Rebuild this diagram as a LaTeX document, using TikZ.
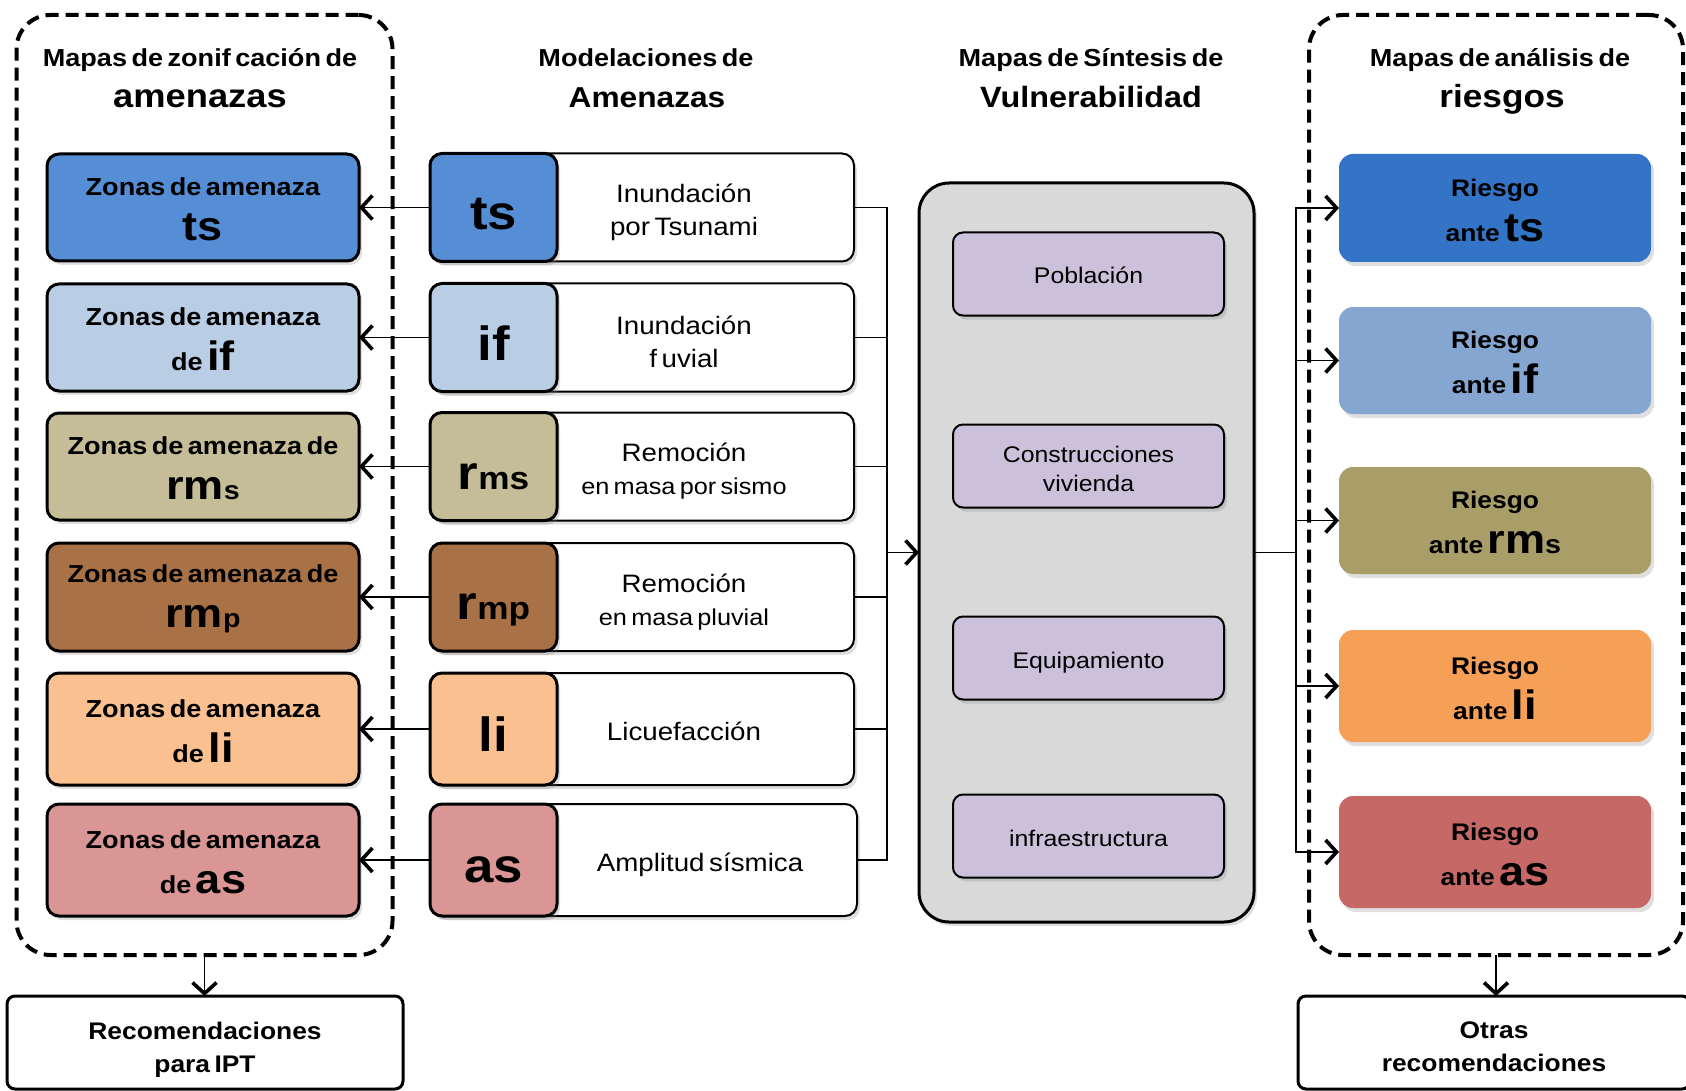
\documentclass[tikz,border=0pt]{standalone}
\usepackage{fontspec}
\setmainfont{Liberation Sans}[FakeStretch=1.1, WordSpace=0.6]
\usetikzlibrary{arrows.meta, shadows}
\definecolor{tsZone}{HTML}{558ED5}
\definecolor{ifZone}{HTML}{B9CDE5}
\definecolor{rmsZone}{HTML}{C4BD97}
\definecolor{rmpZone}{HTML}{A97246}
\definecolor{liZone}{HTML}{FAC090}
\definecolor{asZone}{HTML}{D99694}
\definecolor{tsRisk}{HTML}{3474C6}
\definecolor{ifRisk}{HTML}{84A6D0}
\definecolor{rmsRisk}{HTML}{A99E68}
\definecolor{liRisk}{HTML}{F6A057}
\definecolor{asRisk}{HTML}{C66866}
\definecolor{vulnPurple}{HTML}{CCC1DA}
\definecolor{vulnGray}{HTML}{D9D9D9}
\newcommand{\hzbig}[1]{{\fontsize{20.5}{22.5}\selectfont #1}}
\newcommand{\hzsub}[1]{{\fontsize{13}{22.5}\selectfont #1}}
\newcommand{\toprule}{\rule{0pt}{11pt}}

\begin{document}
\begin{tikzpicture}[x=0.5pt, y=-0.5pt,
  every node/.style={inner sep=0pt, outer sep=0pt},
  boxshadow/.style={drop shadow={shadow xshift=1.5pt, shadow yshift=-2pt, opacity=0.25}},
  zonebox/.style={draw, line width=1.5pt, rounded corners=6pt, minimum width=156pt, minimum height=53.5pt,
    align=center, font=\fontsize{12.3}{22.5}\selectfont\bfseries, boxshadow},
  codebox/.style={draw, line width=1.5pt, rounded corners=6pt, minimum width=63.5pt, minimum height=54pt,
    text height=22.5pt, text depth=0pt, font=\fontsize{24}{24}\selectfont\bfseries, boxshadow},
  namebox/.style={draw, fill=white, line width=1pt, rounded corners=6pt, minimum width=212pt, minimum height=54pt, boxshadow},
  nametext/.style={align=center, font=\fontsize{12.6}{16.5}\selectfont},
  vulnbox/.style={draw, fill=vulnPurple, line width=1pt, rounded corners=5pt, minimum width=135.5pt, minimum height=41.5pt,
    align=center, font=\fontsize{11.3}{14.5}\selectfont, boxshadow},
  vulnone/.style={vulnbox, text height=10pt, text depth=0pt},
  riskbox/.style={rounded corners=7pt, minimum width=156pt, minimum height=54pt,
    align=center, font=\fontsize{12}{22.5}\selectfont\bfseries, boxshadow},
  groupbox/.style={draw, line width=2pt, dash pattern=on 6.5pt off 3.5pt, rounded corners=17pt, minimum width=188pt, minimum height=470pt},
  recbox/.style={draw, line width=1.5pt, rounded corners=4pt, minimum height=46.5pt,
    align=center, font=\fontsize{12}{16.5}\selectfont\bfseries},
  titlesm/.style={anchor=base, font=\fontsize{12.3}{14}\selectfont\bfseries},
  titlebig/.style={anchor=base, font=\fontsize{16.5}{18}\selectfont\bfseries},
  conn/.style={line width=0.9pt},
  arr/.style={conn, -{Straight Barb[length=5.5pt, width=12pt, line width=1.8pt]}}]
  \useasboundingbox (0,0) rectangle (1686,1091);

  % Titles
  \node[titlesm] (tzon1) at (200,67) {Mapas de zonif cación de};
  \node[titlebig] (tzon2) at (200,107.5) {amenazas};
  \node[titlesm] (tmod1) at (646,67) {Modelaciones de};
  \node[titlebig, font=\fontsize{14.4}{16}\selectfont\bfseries] (tmod2) at (647,107.5) {Amenazas};
  \node[titlesm] (tvul1) at (1091,67) {Mapas de Síntesis de};
  \node[titlebig, font=\fontsize{14.7}{16}\selectfont\bfseries] (tvul2) at (1091,107.5) {Vulnerabilidad};
  \node[titlesm] (tries1) at (1500,67) {Mapas de análisis de};
  \node[titlebig, font=\fontsize{16}{18}\selectfont\bfseries] (tries2) at (1502,107.5) {riesgos};

  % Dashed groups
  \node[groupbox] (grpzon) at (204.5,485) {};
  \node[groupbox, minimum width=187pt] (grpries) at (1496,485) {};

  % Hazard zoning maps
  \node[zonebox, fill=tsZone] (zts) at (203,207.5) {\toprule Zonas de amenaza\\\hzbig{ts}};
  \node[zonebox, fill=ifZone] (zif) at (203,337.5) {\toprule Zonas de amenaza\\de \hzbig{if}};
  \node[zonebox, fill=rmsZone] (zrms) at (203,466.5) {\toprule Zonas de amenaza de\\\hzbig{rm}\hzsub{s}};
  \node[zonebox, fill=rmpZone, minimum height=54pt] (zrmp) at (203,597) {\toprule Zonas de amenaza de\\\hzbig{rm}\hzsub{p}};
  \node[zonebox, fill=liZone, minimum height=56pt] (zli) at (203,729) {\toprule Zonas de amenaza\\de \hzbig{li}};
  \node[zonebox, fill=asZone, minimum height=56pt] (zas) at (203,860) {\toprule Zonas de amenaza\\de \hzbig{as}};

  % Hazard models
  \node[namebox] (mtsbox) at (642,207.5) {};
  \node[codebox, fill=tsZone] (mts) at (493.5,207.5) {ts};
  \node[nametext] (mtstxt) at (684,212) {Inundación\\por Tsunami};
  \node[namebox] (mifbox) at (642,337.5) {};
  \node[codebox, fill=ifZone] (mif) at (493.5,337.5) {if};
  \node[nametext] (miftxt) at (684,342) {Inundación\\f uvial};
  \node[namebox] (mrmsbox) at (642,466.5) {};
  \node[codebox, fill=rmsZone] (mrms) at (493.5,466.5) {r{\fontsize{16}{24}\selectfont ms}};
  \node[nametext] (mrmstxt) at (684,471) {Remoción\\{\fontsize{11.5}{16}\selectfont en masa por sismo}};
  \node[namebox] (mrmpbox) at (642,597) {};
  \node[codebox, fill=rmpZone] (mrmp) at (493.5,597) {r{\fontsize{16}{24}\selectfont mp}};
  \node[nametext] (mrmptxt) at (684,602) {Remoción\\{\fontsize{11.5}{16}\selectfont en masa pluvial}};
  \node[namebox, minimum height=56pt] (mlibox) at (642,729) {};
  \node[codebox, fill=liZone, minimum height=56pt] (mli) at (493.5,729) {li};
  \node[nametext] (mlitxt) at (684,731.5) {Licuefacción};
  \node[namebox, minimum height=56pt, minimum width=213.5pt] (masbox) at (643.5,860) {};
  \node[codebox, fill=asZone, minimum height=56pt] (mas) at (493.5,860) {as};
  \node[nametext] (mastxt) at (700,865) {Amplitud sísmica};

  % Vulnerability synthesis
  \node[draw, fill=vulnGray, line width=1.5pt, rounded corners=15pt, minimum width=167.5pt, minimum height=369.5pt, boxshadow]
    (vul) at (1086.5,552.5) {};
  \node[vulnone] (vpob) at (1088.5,274) {Población};
  \node[vulnbox] (vcon) at (1088.5,466) {\rule{0pt}{11.5pt}Construcciones\\vivienda};
  \node[vulnone] (vequ) at (1088.5,658) {Equipamiento};
  \node[vulnone] (vinf) at (1088.5,836) {infraestructura};

  % Risk maps
  \node[riskbox, fill=tsRisk] (rts) at (1495,208) {\toprule Riesgo\\ante \hzbig{ts}};
  \node[riskbox, fill=ifRisk, minimum height=53.5pt] (rif) at (1495,360.5) {\toprule Riesgo\\ante \hzbig{if}};
  \node[riskbox, fill=rmsRisk, minimum height=53.5pt] (rrms) at (1495,520.5) {\toprule Riesgo\\ante \hzbig{rm}\hzsub{s}};
  \node[riskbox, fill=liRisk, minimum height=56pt] (rli) at (1495,686) {\toprule Riesgo\\ante \hzbig{li}};
  \node[riskbox, fill=asRisk, minimum height=56pt] (ras) at (1495,852) {\toprule Riesgo\\ante \hzbig{as}};

  % Recommendations
  \node[recbox, minimum width=198pt] (recipt) at (205,1042.5) {\rule{0pt}{15.5pt}Recomendaciones\\para IPT};
  \node[recbox, minimum width=196pt] (recotr) at (1494,1042.5) {\rule{0pt}{12.5pt}Otras\\recomendaciones};

  % Connectors
  \draw[arr] (mts.west) -- (zts.east);
  \draw[arr] (mif.west) -- (zif.east);
  \draw[arr] (mrms.west) -- (zrms.east);
  \draw[arr] (mrmp.west) -- (zrmp.east);
  \draw[arr] (mli.west) -- (zli.east);
  \draw[arr] (mas.west) -- (zas.east);

  \coordinate (busL) at (887,552.5);
  \draw[conn] (mtsbox.east) -| (busL);
  \draw[conn] (mifbox.east) -| (busL);
  \draw[conn] (mrmsbox.east) -| (busL);
  \draw[conn] (mrmpbox.east) -| (busL);
  \draw[conn] (mlibox.east) -| (busL);
  \draw[conn] (masbox.east) -| (busL);
  \draw[arr] (busL) -- (vul.west);

  \coordinate (busR) at (1296,552.5);
  \draw[conn] (vul.east) -- (busR);
  \draw[arr] (busR) |- (rts.west);
  \draw[arr] (busR) |- (rif.west);
  \draw[arr] (busR) |- (rrms.west);
  \draw[arr] (busR) |- (rli.west);
  \draw[arr] (busR) |- (ras.west);

  \draw[arr] (grpzon.south) -- (grpzon.south |- recipt.north);
  \draw[arr] (grpries.south) -- (grpries.south |- recotr.north);
\end{tikzpicture}
\end{document}
